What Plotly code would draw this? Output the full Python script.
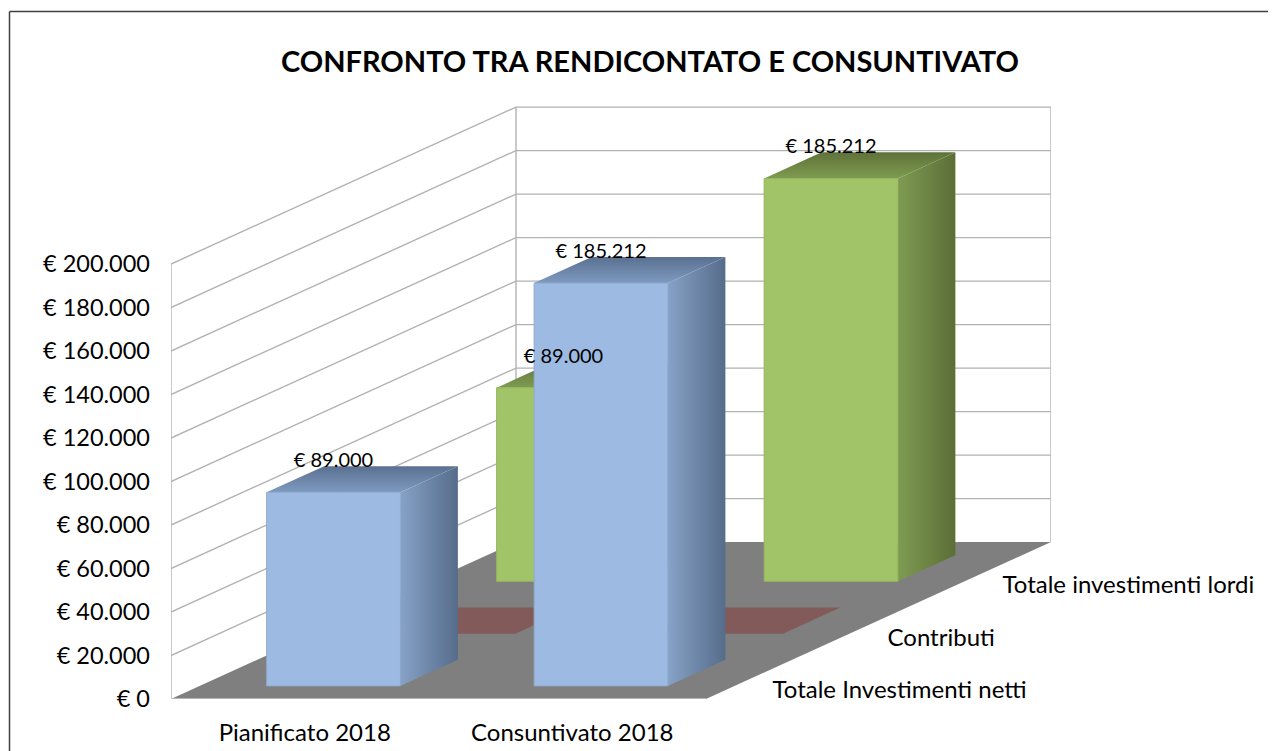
import plotly.graph_objects as go

# ---- data ----
categories = ["Pianificato 2018", "Consuntivato 2018"]
series_names = ["Totale Investimenti netti", "Contributi", "Totale investimenti lordi"]
netti = [89000, 185212]
contributi = [0, 0]
lordi = [89000, 185212]
y_ticks = [0, 20000, 40000, 60000, 80000, 100000, 120000, 140000, 160000, 180000, 200000]
y_labels = ["€ 0", "€ 20.000", "€ 40.000", "€ 60.000", "€ 80.000", "€ 100.000",
            "€ 120.000", "€ 140.000", "€ 160.000", "€ 180.000", "€ 200.000"]
title = "CONFRONTO TRA RENDICONTATO E CONSUNTIVATO"

FONT = "Lato"
W, H = 1268, 743
OFF = 8                      # page margin
L, R_PX, T, B_PX = 171, 1051, 106, 699   # plot area in page pixels
PX_PER_EUR = 435 / 200000
PX_PER_CAT = 267.5
ROW_DX = 115 / PX_PER_CAT    # oblique shift per depth row, in category units
ROW_DY = 52.3 / PX_PER_EUR   # same, in euro
XMAX_FRONT = 2.0
XMAX = (R_PX - L) / PX_PER_CAT
YMAX = (B_PX - T) / PX_PER_EUR
BAR_W = 0.5
BAR_D = 0.5


def proj(x, d, v):
    return x + d * ROW_DX, v + d * ROW_DY


def poly(points, color=None, gradient=None, line=None):
    xs, ys = zip(*[proj(*p) for p in points])
    kw = dict(x=list(xs) + [xs[0]], y=list(ys) + [ys[0]], mode="lines", fill="toself",
              hoverinfo="skip", showlegend=False,
              line=dict(width=1 if line else 0, color=line or "rgba(0,0,0,0)"))
    if gradient:
        kw["fillgradient"] = gradient
    else:
        kw["fillcolor"] = color
    return go.Scatter(**kw)


def grad(kind, c0, c1):
    return dict(type=kind, colorscale=[[0, c0], [1, c1]])


fig = go.Figure()

# floor
fig.add_trace(poly([(0, 0, 0), (XMAX_FRONT, 0, 0), (XMAX_FRONT, 3, 0), (0, 3, 0)], color="#7F7F7F"))

# gridlines on left and back walls
GRID = "#B2B2B2"
levels = [v for v in y_ticks]
for v in levels:
    px, py = zip(proj(0, 0, v), proj(0, 3, v), proj(XMAX_FRONT, 3, v))
    fig.add_trace(go.Scatter(x=px, y=py, mode="lines", line=dict(color=GRID, width=1.4 if v else 0),
                             hoverinfo="skip", showlegend=False))
for x, d in [(0, 0), (0, 3), (XMAX_FRONT, 3)]:
    px, py = zip(proj(x, d, 0), proj(x, d, 200000))
    fig.add_trace(go.Scatter(x=px, y=py, mode="lines", line=dict(color=GRID, width=1.4),
                             hoverinfo="skip", showlegend=False))
px, py = zip(proj(0, 0, 0), proj(XMAX_FRONT, 0, 0))
fig.add_trace(go.Scatter(x=px, y=py, mode="lines", line=dict(color="#C8C8C8", width=1.4),
                         hoverinfo="skip", showlegend=False))

styles = [
    dict(front="#9DBBE2", edge="#8FA9CB", side0="#86A2C6", side1="#566C8B", top0="#7E9ABF", top1="#5A7090"),
    dict(front="#835A5A", edge="#835A5A", side0="#835A5A", side1="#835A5A", top0="#835A5A", top1="#835A5A"),
    dict(front="#A2C468", edge="#96B55F", side0="#7F9B52", side1="#5B6E37", top0="#7F9B50", top1="#5E7239"),
]
rows = [netti, contributi, lordi]

# bars, far row first
for r in [2, 1, 0]:
    st = styles[r]
    for c, v in enumerate(rows[r]):
        x0 = c + (1 - BAR_W) / 2
        x1 = x0 + BAR_W
        d0 = r + (1 - BAR_D) / 2
        d1 = d0 + BAR_D
        if v == 0:
            fig.add_trace(poly([(x0, d0, 0), (x1, d0, 0), (x1, d1, 0), (x0, d1, 0)], color=st["top0"]))
            continue
        fig.add_trace(poly([(x0, d0, v), (x1, d0, v), (x1, d1, v), (x0, d1, v)],
                           gradient=grad("vertical", st["top0"], st["top1"])))
        fig.add_trace(poly([(x1, d0, 0), (x1, d1, 0), (x1, d1, v), (x1, d0, v)],
                           gradient=grad("horizontal", st["side0"], st["side1"])))
        fig.add_trace(poly([(x0, d0, 0), (x1, d0, 0), (x1, d0, v), (x0, d0, v)],
                           color=st["front"], line=st["edge"]))

# data labels
lx, ly, lt = [], [], []
for r in [2, 0]:
    for c, v in enumerate(rows[r]):
        x_mid = c + 0.5 + (r + 0.25) * ROW_DX
        _, y_top = proj(0, r + 0.75, v)
        lx.append(x_mid)
        ly.append(y_top + 4 / PX_PER_EUR)
        lt.append("€ " + f"{v:,}".replace(",", "."))
fig.add_trace(go.Scatter(x=lx, y=ly, text=lt, mode="text", textposition="middle center",
                         textfont=dict(family=FONT, size=20, color="#000000"),
                         hoverinfo="skip", showlegend=False, cliponaxis=False))

# depth axis labels
sx, sy = [], []
for r in range(3):
    x, y = proj(XMAX_FRONT, r + 0.5, 0)
    sx.append(x + 9 / PX_PER_CAT)
    sy.append(y - 19 / PX_PER_EUR)
fig.add_trace(go.Scatter(x=sx, y=sy, text=series_names, mode="text", textposition="middle right",
                         textfont=dict(family=FONT, size=24, color="#000000"),
                         hoverinfo="skip", showlegend=False, cliponaxis=False))

fig.update_layout(
    width=W, height=H,
    margin=dict(l=L - OFF, r=OFF + W - R_PX, t=T - OFF, b=OFF + H - B_PX, pad=0),
    paper_bgcolor="white", plot_bgcolor="white",
    showlegend=False,
    title=dict(text="<b>" + title + "</b>", x=(650 - OFF) / W, xref="container", xanchor="center",
               y=1 - (62 - OFF) / H, yref="container", yanchor="middle",
               font=dict(family=FONT, size=29, color="#000000")),
    xaxis=dict(range=[0, XMAX], tickvals=[0.5, 1.5], ticktext=categories, showgrid=False, zeroline=False,
               showline=False, ticks="", ticklabelstandoff=17, automargin=False,
               tickfont=dict(family=FONT, size=24, color="#000000"), fixedrange=True),
    yaxis=dict(range=[0, YMAX], tickvals=y_ticks, ticktext=y_labels, showgrid=False, zeroline=False,
               showline=False, ticks="", ticklabelstandoff=20, automargin=False,
               tickfont=dict(family=FONT, size=23.5, color="#000000"), fixedrange=True),
    shapes=[
        dict(type="line", xref="paper", yref="paper",
             x0=(9.5 - L) / (R_PX - L), x1=(9.5 - L) / (R_PX - L),
             y0=(B_PX - (OFF + H)) / (B_PX - T), y1=(B_PX - 11.5) / (B_PX - T),
             line=dict(color="#404040", width=1.5)),
        dict(type="line", xref="paper", yref="paper",
             x0=(9.5 - L) / (R_PX - L), x1=(OFF + W - L) / (R_PX - L),
             y0=(B_PX - 11.5) / (B_PX - T), y1=(B_PX - 11.5) / (B_PX - T),
             line=dict(color="#404040", width=1.5)),
    ],
)
fig.write_html("out.html", post_script="document.documentElement.style.overflow='hidden';")
